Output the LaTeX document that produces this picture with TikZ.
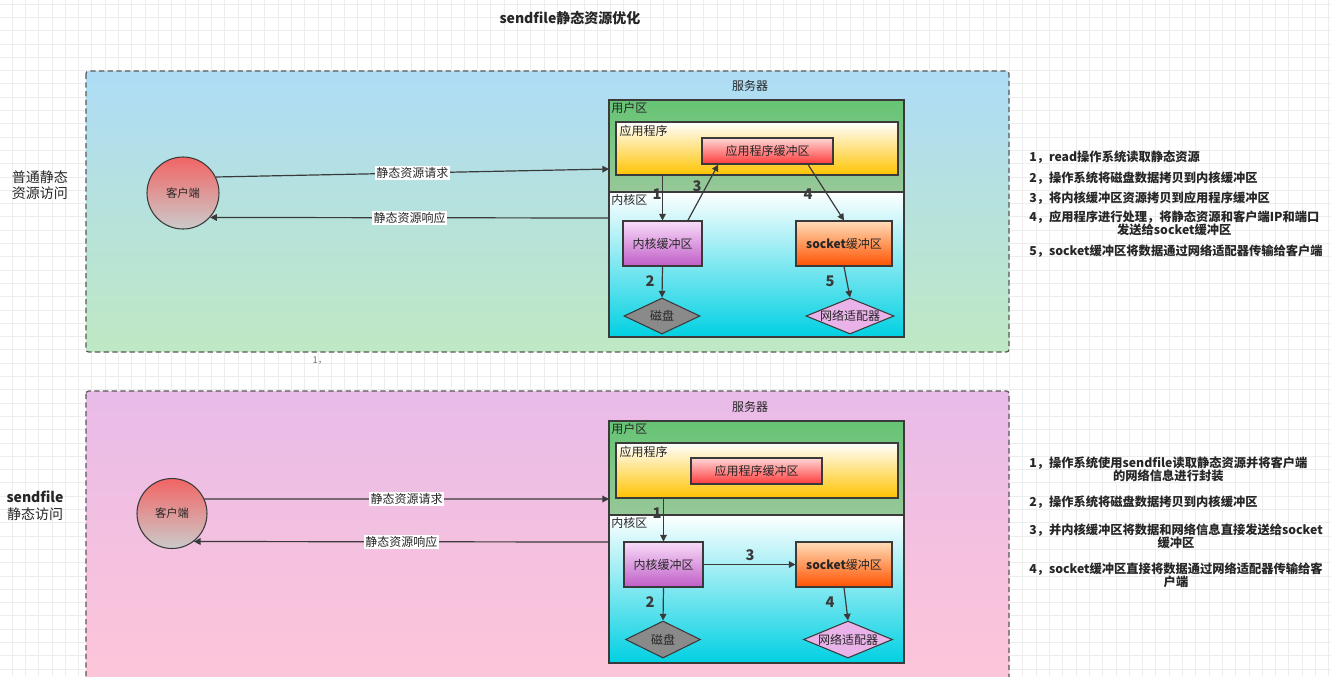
\documentclass[tikz,border=0pt]{standalone}
\usepackage{fontspec}
\setmainfont{Noto Sans CJK SC}
\usetikzlibrary{arrows.meta,shapes.geometric}

\definecolor{gridgray}{HTML}{EDEDED}
\definecolor{linegray}{HTML}{3A3A3A}
\definecolor{skytop}{HTML}{AEDCF6}
\definecolor{mintbot}{HTML}{BFE8C3}
\definecolor{liltop}{HTML}{E8BBE8}
\definecolor{rosebot}{HTML}{FFC6D8}
\definecolor{usertop}{HTML}{66C474}
\definecolor{userbot}{HTML}{97C899}
\definecolor{kernbot}{HTML}{00D0E2}
\definecolor{appbot}{HTML}{FFC300}
\definecolor{abuftop}{HTML}{FFD6D6}
\definecolor{abufbot}{HTML}{FF3A3A}
\definecolor{kbuftop}{HTML}{F8DCF8}
\definecolor{kbufbot}{HTML}{C05EC8}
\definecolor{sbuftop}{HTML}{FFDDB8}
\definecolor{sbufbot}{HTML}{FF5200}
\definecolor{diskgray}{HTML}{8A8A8A}
\definecolor{nicpink}{HTML}{E9B3EA}
\definecolor{clitop}{HTML}{F26464}
\definecolor{clibot}{HTML}{CBCBCB}

\tikzset{
  panel/.style={draw=linegray!85, line width=0.9pt, dash pattern=on 4pt off 2.5pt, rounded corners=2pt},
  box/.style={rectangle, draw=linegray, line width=0.8pt, inner sep=0pt},
  userzone/.style={box, top color=usertop, bottom color=userbot, minimum width=221.25pt},
  kernzone/.style={box, top color=white, bottom color=kernbot, minimum width=221.25pt},
  appbox/.style={box, top color=white, bottom color=appbot, minimum width=211.5pt},
  abufbox/.style={box, top color=abuftop, bottom color=abufbot, minimum width=98.25pt, minimum height=19.5pt},
  kbufbox/.style={box, top color=kbuftop, bottom color=kbufbot, minimum width=59.25pt, minimum height=33.75pt},
  sbufbox/.style={box, top color=sbuftop, bottom color=sbufbot, minimum width=72pt, minimum height=33.75pt},
  dev/.style={diamond, draw=linegray, line width=0.8pt, inner sep=0pt},
  client/.style={circle, draw=linegray, line width=0.8pt, top color=clitop, bottom color=clibot, font=\fontsize{8.5}{9}\selectfont},
  zonelbl/.style={anchor=north west, inner sep=2pt},
  arr/.style={draw=linegray, line width=0.9pt, -{Triangle[length=5pt,width=5pt]}},
  lbl/.style={fill=white, inner sep=1pt},
  num/.style={font=\bfseries\fontsize{11}{11}\selectfont, text=linegray},
  side/.style={align=center, font=\fontsize{10.5}{12.5}\selectfont},
  note/.style={anchor=west, align=center, inner sep=0pt, font=\bfseries\fontsize{9.2}{10}\selectfont}
}

\begin{document}
\begin{tikzpicture}[x=0.75pt, y=-0.75pt, font=\fontsize{9}{10.5}\selectfont, text=black!85]
  \useasboundingbox (0,0) rectangle (1331,676);
  \clip (0,0) rectangle (1331,676);
  \fill[white] (0,0) rectangle (1331,676);
  % grid paper
  \foreach \gx in {12,25.3,...,1331} \draw[gridgray, line width=0.5pt] (\gx,0) -- (\gx,676);
  \foreach \gy in {4,17.3,...,676} \draw[gridgray, line width=0.5pt] (0,\gy) -- (1331,\gy);

  \node[font=\bfseries\fontsize{10.5}{12}\selectfont] (title) at (570,18) {sendfile静态资源优化};

  %% ordinary static access
  \draw[panel, top color=skytop, bottom color=mintbot] (86,71) rectangle (1009,352);
  \node (srvlbl1) at (750,86) {服务器};
  \node[userzone, minimum height=69pt] (uz1) at (756.5,146) {};
  \node[kernzone, minimum height=108.75pt] (kz1) at (756.5,264.5) {};
  \node[box, rounded corners=1.5pt, minimum width=221.25pt, minimum height=177.75pt] (srv1) at (756.5,218.5) {};
  \node[zonelbl] at (uz1.north west) {用户区};
  \node[zonelbl] at (kz1.north west) {内核区};
  \node[appbox, minimum height=39.75pt] (app1) at (757,148.5) {};
  \node[zonelbl, inner sep=3pt] at (app1.north west) {应用程序};
  \node[abufbox] (abuf1) at (767.5,151) {应用程序缓冲区};
  \node[kbufbox] (kbuf1) at (662.5,243.5) {内核缓冲区};
  \node[sbufbox] (sbuf1) at (844,243.5) {\textbf{socket}缓冲区};
  \node[dev, fill=diskgray, minimum width=57pt, minimum height=27pt, label={center:磁盘}] (disk1) at (662,316) {};
  \node[dev, fill=nicpink, minimum width=66pt, minimum height=27pt, label={center:网络适配器}] (nic1) at (850,316) {};

  \node[client, minimum size=54pt] (cli1) at (183,193) {客户端};
  \coordinate (req1) at (609,169);
  \coordinate (resp1) at (609,218);
  \draw[arr] (cli1.26) -- node[lbl] {静态资源请求} (req1);
  \draw[arr] (resp1) -- node[lbl] {静态资源响应} (cli1.-42);

  \draw[arr] (kbuf1.north |- app1.south) -- (kbuf1.north);
  \draw[arr] (kbuf1.south) -- (disk1.north);
  \draw[arr] ([xshift=19pt]kbuf1.north) -- ([xshift=-37pt]abuf1.south);
  \draw[arr] ([xshift=30.4pt]abuf1.south) -- (sbuf1.north);
  \draw[arr] (sbuf1.south) -- (nic1.north);
  \node[num] at (657,194) {1};
  \node[num] at (650,281) {2};
  \node[num] at (697,186) {3};
  \node[num] at (808,194) {4};
  \node[num] at (830,281) {5};

  \node[side] (side1) at (40,185) {普通静态\\资源访问};
  \node[text=black!55, font=\fontsize{7}{8}\selectfont] (stray) at (320,361) {1，};

  \node[note] (n11) at (1029,157) {1，read操作系统读取静态资源};
  \node[note] (n12) at (1029,178) {2，操作系统将磁盘数据拷贝到内核缓冲区};
  \node[note] (n13) at (1029,198) {3，将内核缓冲区资源拷贝到应用程序缓冲区};
  \node[note] (n14) at (1029,223) {4，应用程序进行处理，将静态资源和客户端IP和端口\\发送给socket缓冲区};
  \node[note] (n15) at (1029,251) {5，socket缓冲区将数据通过网络适配器传输给客户端};

  %% sendfile static access
  \draw[panel, top color=liltop, bottom color=rosebot] (86,391) rectangle (1009,700);
  \node (srvlbl2) at (750,407) {服务器};
  \node[userzone, minimum height=70.5pt] (uz2) at (756.5,468) {};
  \node[kernzone, minimum height=111pt] (kz2) at (756.5,589) {};
  \node[box, rounded corners=1.5pt, minimum width=221.25pt, minimum height=181.5pt] (srv2) at (756.5,542) {};
  \node[zonelbl] at (uz2.north west) {用户区};
  \node[zonelbl] at (kz2.north west) {内核区};
  \node[appbox, minimum height=41.25pt] (app2) at (757,470.5) {};
  \node[zonelbl, inner sep=3pt] at (app2.north west) {应用程序};
  \node[abufbox] (abuf2) at (756.5,471) {应用程序缓冲区};
  \node[kbufbox] (kbuf2) at (663.5,564.5) {内核缓冲区};
  \node[sbufbox] (sbuf2) at (844,564.5) {\textbf{socket}缓冲区};
  \node[dev, fill=diskgray, minimum width=56.25pt, minimum height=27.75pt, label={center:磁盘}] (disk2) at (663,639.5) {};
  \node[dev, fill=nicpink, minimum width=66.75pt, minimum height=27.75pt, label={center:网络适配器}] (nic2) at (848,639.5) {};

  \node[client, minimum size=52.5pt] (cli2) at (172,513.5) {客户端};
  \coordinate (req2) at (609,499);
  \coordinate (resp2) at (609,542);
  \draw[arr] (cli2.24) -- node[lbl] {静态资源请求} (req2);
  \draw[arr] (resp2) -- node[lbl] {静态资源响应} (cli2.-52);

  \draw[arr] (kbuf2.north |- app2.south) -- (kbuf2.north);
  \draw[arr] (kbuf2.south) -- (disk2.north);
  \draw[arr] (kbuf2.east) -- (sbuf2.west);
  \draw[arr] (sbuf2.south) -- (nic2.north);
  \node[num] at (657,513) {1};
  \node[num] at (650,602) {2};
  \node[num] at (750,555) {3};
  \node[num] at (830,602) {4};

  \node[side] (side2) at (35,506) {\textbf{sendfile}\\静态访问};

  \node[note] (n21) at (1029,469.5) {1，操作系统使用sendfile读取静态资源并将客户端\\的网络信息进行封装};
  \node[note] (n22) at (1029,502) {2，操作系统将磁盘数据拷贝到内核缓冲区};
  \node[note] (n23) at (1029,536) {3，并内核缓冲区将数据和网络信息直接发送给socket\\缓冲区};
  \node[note] (n24) at (1029,575) {4，socket缓冲区直接将数据通过网络适配器传输给客\\户端};
\end{tikzpicture}
\end{document}
